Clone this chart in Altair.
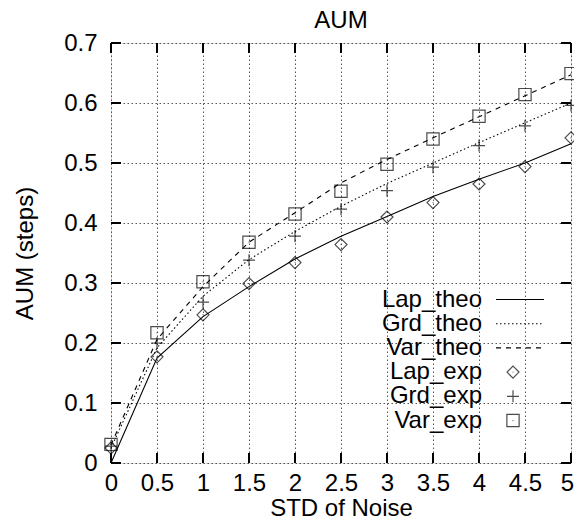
import altair as alt
import pandas as pd

# ---- data ----
noise_std = [0, 0.5, 1, 1.5, 2, 2.5, 3, 3.5, 4, 4.5, 5]
lap_theo = [0.0, 0.175, 0.244, 0.294, 0.34, 0.378, 0.411, 0.444, 0.473, 0.5, 0.532]
grd_theo = [0.025, 0.192, 0.278, 0.339, 0.386, 0.428, 0.466, 0.5, 0.534, 0.567, 0.6]
var_theo = [0.03, 0.206, 0.294, 0.368, 0.417, 0.467, 0.506, 0.542, 0.577, 0.612, 0.647]
lap_exp = [0.025, 0.177, 0.247, 0.299, 0.334, 0.364, 0.41, 0.434, 0.465, 0.494, 0.542]
grd_exp = [0.028, 0.2, 0.268, 0.338, 0.378, 0.423, 0.454, 0.493, 0.529, 0.562, 0.596]
var_exp = [0.031, 0.217, 0.302, 0.368, 0.415, 0.453, 0.498, 0.54, 0.578, 0.614, 0.649]
x_ticks = [0, 0.5, 1, 1.5, 2, 2.5, 3, 3.5, 4, 4.5, 5]
y_ticks = [0, 0.1, 0.2, 0.3, 0.4, 0.5, 0.6, 0.7]
legend_labels = ["Lap_theo", "Grd_theo", "Var_theo", "Lap_exp", "Grd_exp", "Var_exp"]
chart_title = "AUM"

FONT = "Liberation Sans"
FS = 24
W, H = 460, 420

df = pd.DataFrame({
    "x": noise_std,
    "lap_theo": lap_theo, "grd_theo": grd_theo, "var_theo": var_theo,
    "lap_exp": lap_exp, "grd_exp": grd_exp, "var_exp": var_exp,
})
xt = pd.DataFrame({"t": x_ticks})
yt = pd.DataFrame({"t": y_ticks})
one = pd.DataFrame({"a": [0]})

xs = alt.Scale(domain=[0, 5], nice=False, zero=False)
ys = alt.Scale(domain=[0, 0.7], nice=False, zero=False)

x_axis = alt.Axis(values=x_ticks, format="~g", grid=True, gridDash=[1.5, 2.5],
                  gridColor="#555555", gridWidth=1, ticks=False, domain=False,
                  labelFont=FONT, labelFontSize=FS, labelColor="black", labelPadding=8,
                  labelFlush=False, labelOverlap=False,
                  labelOffset={"condition": {"test": "datum.value === 5", "value": -4}, "value": 0},
                  title="STD of Noise", titleFont=FONT, titleFontSize=FS,
                  titleFontWeight="normal", titleColor="black",
                  titleX=W / 2, titleY=52, titleBaseline="alphabetic")
y_axis = alt.Axis(values=y_ticks, format="~g", grid=True, gridDash=[1.5, 2.5],
                  gridColor="#555555", gridWidth=1, ticks=False, domain=False,
                  labelFont=FONT, labelFontSize=FS, labelColor="black", labelPadding=14,
                  labelFlush=False, labelOverlap=False,
                  title="AUM (steps)", titleFont=FONT, titleFontSize=FS,
                  titleFontWeight="normal", titleColor="black",
                  titleX=-79, titleY=H / 2, titleAngle=270, titleBaseline="alphabetic")

base = alt.Chart(df)

# line series
l_lap = base.mark_line(color="black", strokeWidth=1.1).encode(
    x=alt.X("x:Q", scale=xs, axis=x_axis), y=alt.Y("lap_theo:Q", scale=ys, axis=y_axis))
l_grd = base.mark_line(color="black", strokeWidth=1.1, strokeDash=[1.5, 2.5]).encode(
    x=alt.X("x:Q", scale=xs), y=alt.Y("grd_theo:Q", scale=ys))
l_var = base.mark_line(color="black", strokeWidth=1.1, strokeDash=[5, 5]).encode(
    x=alt.X("x:Q", scale=xs), y=alt.Y("var_theo:Q", scale=ys))

PLUS = "M-1,0H1M0,-1V1"
p_lap = base.mark_point(shape="diamond", size=144, filled=False, color="black", strokeWidth=1.2).encode(
    x=alt.X("x:Q", scale=xs), y=alt.Y("lap_exp:Q", scale=ys))
p_grd = base.mark_point(shape=PLUS, size=144, filled=False, color="black", strokeWidth=1.2).encode(
    x=alt.X("x:Q", scale=xs), y=alt.Y("grd_exp:Q", scale=ys))
p_var = base.mark_point(shape="square", size=150, filled=False, color="black", strokeWidth=1.2).encode(
    x=alt.X("x:Q", scale=xs), y=alt.Y("var_exp:Q", scale=ys))
d_lap = base.mark_point(shape="circle", size=2, filled=True, color="#444").encode(
    x=alt.X("x:Q", scale=xs), y=alt.Y("lap_exp:Q", scale=ys))
d_var = base.mark_point(shape="circle", size=2, filled=True, color="#444").encode(
    x=alt.X("x:Q", scale=xs), y=alt.Y("var_exp:Q", scale=ys))

# inward ticks on all four sides
TL = 10
tick_style = dict(color="black", strokeWidth=2)
tb = alt.Chart(xt).mark_rule(**tick_style).encode(
    x=alt.X("t:Q", scale=xs), y=alt.value(H), y2=alt.value(H - TL))
tt = alt.Chart(xt).mark_rule(**tick_style).encode(
    x=alt.X("t:Q", scale=xs), y=alt.value(0), y2=alt.value(TL))
tl = alt.Chart(yt).mark_rule(**tick_style).encode(
    y=alt.Y("t:Q", scale=ys), x=alt.value(0), x2=alt.value(TL))
tr = alt.Chart(yt).mark_rule(**tick_style).encode(
    y=alt.Y("t:Q", scale=ys), x=alt.value(W), x2=alt.value(W - TL))

# chart title drawn as text above the frame
title_layer = alt.Chart(one).mark_text(
    align="center", baseline="alphabetic", font=FONT, fontSize=FS, color="black").encode(
    x=alt.value(W / 2), y=alt.value(-15), text=alt.value(chart_title))

# gnuplot-style key
row_y = [256.5, 280.7, 304.9, 329.1, 353.3, 377.5]
TX, LX1, LX2, SX = 371, 385, 433, 402
legend_layers = []
for lab, ry in zip(legend_labels, row_y):
    legend_layers.append(alt.Chart(one).mark_text(
        align="right", baseline="middle", font=FONT, fontSize=FS, color="black").encode(
        x=alt.value(TX), y=alt.value(ry), text=alt.value(lab)))
dashes = [None, [1.5, 2.5], [5, 5]]
for dsh, ry in zip(dashes, row_y[:3]):
    kw = dict(color="black", strokeWidth=1.1)
    if dsh:
        kw["strokeDash"] = dsh
    legend_layers.append(alt.Chart(one).mark_rule(**kw).encode(
        x=alt.value(LX1), x2=alt.value(LX2), y=alt.value(ry)))
for shp, sz, ry in zip(["diamond", PLUS, "square"], [144, 144, 150], row_y[3:]):
    legend_layers.append(alt.Chart(one).mark_point(
        shape=shp, size=sz, filled=False, color="black", strokeWidth=1.2).encode(
        x=alt.value(SX), y=alt.value(ry)))
for ry in [row_y[3], row_y[5]]:
    legend_layers.append(alt.Chart(one).mark_point(
        shape="circle", size=2, filled=True, color="#444").encode(
        x=alt.value(SX), y=alt.value(ry)))

chart = alt.layer(
    l_lap, l_grd, l_var, p_lap, p_grd, p_var, d_lap, d_var,
    tb, tt, tl, tr, title_layer, *legend_layers
).properties(
    width=W, height=H,
    autosize=alt.AutoSizeParams(type="none"),
    padding={"left": 103, "top": 35, "right": 3, "bottom": 54},
).configure_view(
    stroke="black", strokeWidth=2
).configure(background="white")

chart.save("out.html", embed_options={"renderer": "svg", "actions": False})
